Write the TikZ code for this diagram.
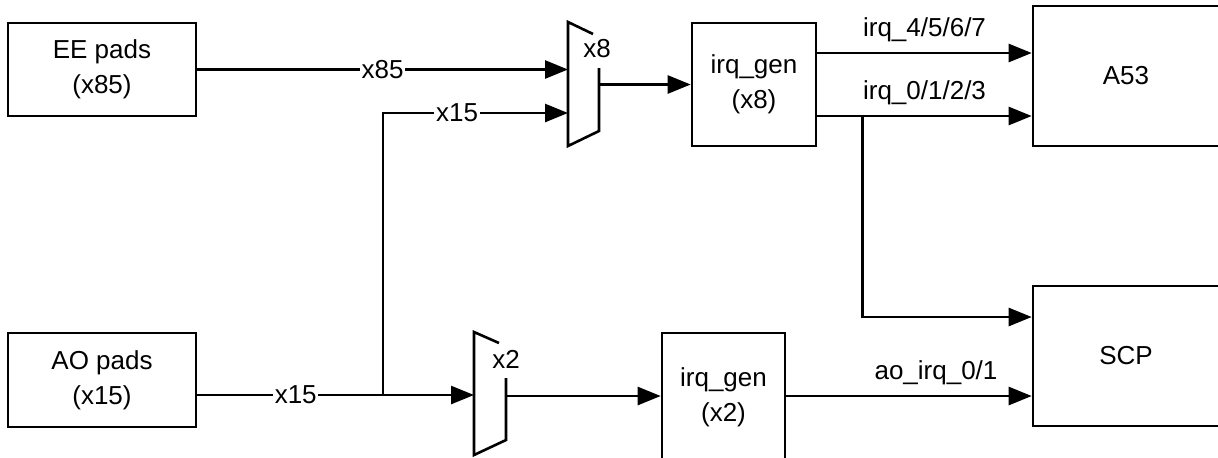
\documentclass[tikz,border=0pt]{standalone}
\usepackage{fontspec}
\setmainfont{Liberation Sans}
\usetikzlibrary{arrows.meta, positioning, calc}
\tikzset{
  >={Triangle[length=11.5pt, width=9pt]},
  blk/.style={draw, line width=1.3pt, align=center, inner sep=0pt,
    font=\fontsize{13}{17.5}\selectfont},
  flow/.style={->, line width=1.3pt},
  wire/.style={line width=1.3pt},
  tag/.style={font=\fontsize{13}{15}\selectfont, inner sep=2pt},
  onwire/.style={tag, fill=white, inner sep=0.8pt},
}

\begin{document}
\begin{tikzpicture}[x=0.5pt, y=-0.5pt]
  \useasboundingbox (0,0) rectangle (1218,457);

  % The pad groups on the left.
  \node[blk, minimum width=94pt, minimum height=46.5pt] (eepads) at (102,69.5) {EE pads\\(x85)};
  \node[blk, minimum width=94pt, minimum height=47pt] (aopads) at (102,380) {AO pads\\(x15)};

  % irq generators and the two cores (the lower one runs off the page).
  \node[blk, minimum width=62pt, minimum height=61.5pt] (irqA) at (754,84.5) {irq\_gen\\(x8)};
  \node[blk, minimum width=61.5pt, minimum height=64pt] (irqB) at (723.5,397) {irq\_gen\\(x2)};
  \node[blk, minimum width=93pt, minimum height=70pt] (a53) at (1126,76) {A53};
  \node[blk, minimum width=93pt, minimum height=70pt] (scp) at (1126,356) {SCP};

  % The two muxes, drawn as open trapezoids.
  \draw[wire] (593,34) -- (568,22) -- (568,146) -- (599,131) -- (599,68);
  \node[tag] (mux8) at (597,49) {x8};
  \draw[wire] (499,343) -- (474,332) -- (474,455) -- (506,440) -- (506,378);
  \node[tag] (mux2) at (506,359) {x2};

  \coordinate (m8in1) at (568,70);
  \coordinate (m8in2) at (568,113);
  \coordinate (m8out) at (599,84.5);
  \coordinate (m2in)  at (474,395);
  \coordinate (m2out) at (506,396);
  \coordinate (jn)    at (383,395);

  % Pads into the muxes.
  \draw[flow] (eepads.east) -- node[onwire] {x85} (eepads.east -| m8in1);
  \draw[wire] (aopads.east |- jn) -- node[onwire, pos=0.53] {x15} (jn);
  \draw[flow] (jn) -- (m2in);
  \draw[flow] (jn) |- node[onwire, pos=0.70] {x15} (m8in2);

  % Muxes into the generators.
  \draw[flow] (m8out) -- (irqA.west);
  \draw[flow] (m2out) -- (m2out -| irqB.west);

  % Generators into the cores.
  \coordinate (a53hi) at ([yshift=15.75pt]irqA.east);
  \coordinate (a53lo) at ([yshift=-15.75pt]irqA.east);
  \coordinate (tap) at ($(a53lo)+(45,0)$);
  \draw[flow] (a53hi) -- node[tag, above=3pt] {irq\_4/5/6/7} (a53hi -| a53.west);
  \draw[flow] (a53lo) -- node[tag, above=3pt] {irq\_0/1/2/3} (a53lo -| a53.west);
  \draw[flow] (tap) |- ([yshift=19.5pt]scp.west);
  \draw[flow] (m2out -| irqB.east) -- node[tag, above=3pt, pos=0.61] {ao\_irq\_0/1} (m2out -| scp.west);
\end{tikzpicture}
\end{document}
